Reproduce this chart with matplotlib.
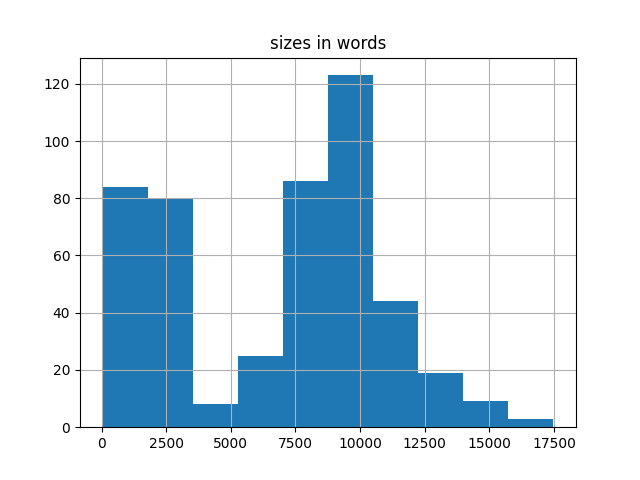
import numpy as np
import matplotlib
matplotlib.use('Agg')
import matplotlib.pyplot as plt

# histogram of document sizes, 10 bins
min_words = 40
max_words = 17480
counts = [84, 80, 8, 25, 86, 123, 44, 19, 9, 3]

edges = np.linspace(min_words, max_words, len(counts) + 1)

fig, ax = plt.subplots(figsize=(6.4, 4.8), dpi=100)
ax.hist(edges[:-1], bins=edges, weights=counts, color='#1f77b4')
ax.grid(True)
ax.set_title('sizes in words')
fig.savefig('out.png')
